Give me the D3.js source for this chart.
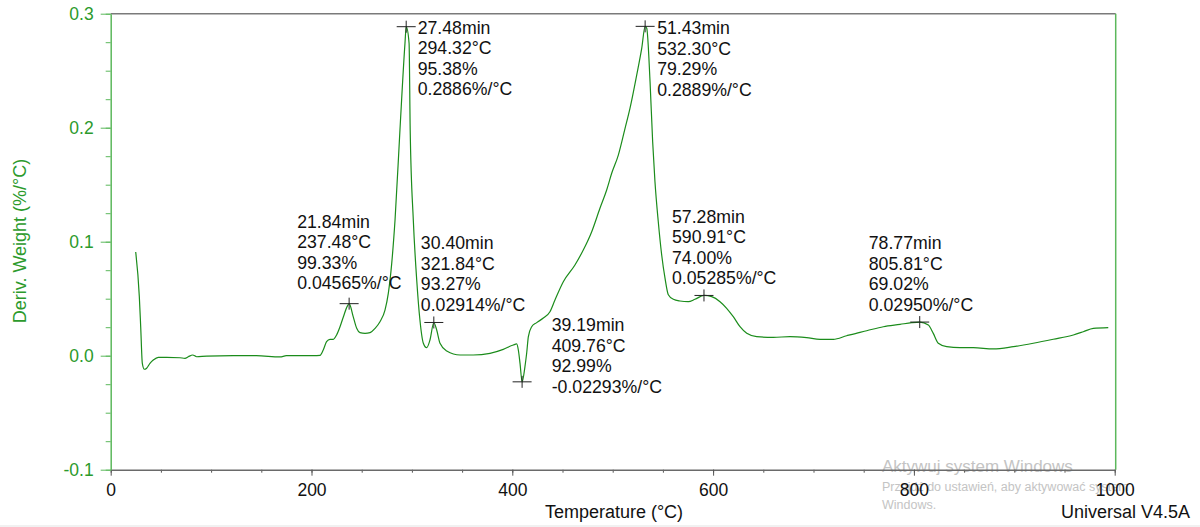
<!DOCTYPE html>
<html>
<head>
<meta charset="utf-8">
<script src="https://cdn.jsdelivr.net/npm/d3@7"></script>
<style>
  body { margin: 0; background: #fff; }
  svg { display: block; font-family: "Liberation Sans", Arial, sans-serif; }
</style>
</head>
<body>
<svg id="chart" width="1200" height="527"></svg>
<script>
// DTG curve
var temperature = [24.9, 28.5, 29.9, 31.5, 33.5, 35.8, 39.1, 42.4, 47.4, 55.8, 69, 74, 77.3, 81.7, 85.6, 95.6,
  122, 145, 168.6, 175, 202, 208.5, 211.7, 215, 218.4, 221.7, 225, 228.4, 231.7, 235.7, 237.48,
  241.6, 245, 248.3, 253.3, 258.3, 263.3, 268.2, 273.2, 276.5, 279.9, 283.2, 288.1, 293.1, 294.32,
  297.2, 298.3, 301.4, 304.8, 308, 311.4, 314.7, 318, 321.84, 324.7, 328, 334.7, 348, 361, 377.8,
  391, 401, 404.4, 406, 407.7, 409.76, 412.6, 414.3, 416, 419.3, 424.3, 430.9, 437.5, 442.5, 450.8,
  462.4, 470.7, 479.1, 487.3, 494, 499, 505.6, 512.3, 517.2, 523.9, 528.9, 532.3, 533.9, 537.2,
  539.8, 542.1, 545.4, 548.8, 552.1, 555.4, 560.4, 567, 575.3, 582, 590.91, 598.6, 606.9, 613.5,
  620.1, 626.8, 633.5, 643.4, 660, 676.6, 693.2, 706.5, 719.7, 733, 746.3, 753, 769.5, 786.2,
  797.8, 805.81, 814.4, 819.3, 824.3, 832.7, 845.9, 859.2, 879.1, 899, 918.9, 938.8, 958.8,
  968.7, 978.7, 993.6];
var derivWeight = [0.091, 0.052, 0.025, -0.0067, -0.0119, -0.011, -0.0067, -0.0038, -0.0014, -0.0014, -0.0018, -0.0023, -0.0009, 0.0006, -0.0009, -0.0003,
  0.0, 0.0, -0.0011, 0.0, 0.0, 0.0003, 0.005, 0.0123, 0.0144, 0.0144, 0.0182, 0.0254, 0.034, 0.0435, 0.04565,
  0.034, 0.024, 0.0202, 0.0196, 0.0202, 0.024, 0.0298, 0.040, 0.0547, 0.081, 0.119, 0.198, 0.274, 0.2886,
  0.274, 0.198, 0.119, 0.0664, 0.0313, 0.0109, 0.007, 0.0138, 0.02914, 0.0225, 0.0109, 0.0041, 0.0006, 0.0006, 0.0021,
  0.0056, 0.0094, 0.0103, 0.005, -0.0067, -0.02293, -0.0096, 0.0021, 0.0167, 0.0254, 0.029, 0.033, 0.0386, 0.0489, 0.0649,
  0.0796, 0.0927, 0.1088, 0.1293, 0.1454, 0.16, 0.176, 0.1995, 0.217, 0.2462, 0.2696, 0.2889, 0.2872, 0.2404,
  0.1877, 0.1526, 0.1175, 0.0883, 0.068, 0.0535, 0.0495, 0.048, 0.0474, 0.0495, 0.05285, 0.0518, 0.0474, 0.0416,
  0.0342, 0.0254, 0.0196, 0.0167, 0.0161, 0.0167, 0.0158, 0.0144, 0.0144, 0.0175, 0.0205, 0.0219, 0.0254, 0.0275,
  0.029, 0.0295, 0.0269, 0.0196, 0.0109, 0.0079, 0.007, 0.007, 0.0059, 0.0079, 0.0109, 0.0144, 0.0182,
  0.021, 0.024, 0.0246];

// peak annotations
var peakTime = ["21.84min", "27.48min", "30.40min", "39.19min", "51.43min", "57.28min", "78.77min"];
var peakTemp = [237.48, 294.32, 321.84, 409.76, 532.30, 590.91, 805.81];
var peakWeight = ["99.33%", "95.38%", "93.27%", "92.99%", "79.29%", "74.00%", "69.02%"];
var peakDeriv = [0.04565, 0.2886, 0.02914, -0.02293, 0.2889, 0.05285, 0.02950];
var peakDerivText = ["0.04565%/°C", "0.2886%/°C", "0.02914%/°C", "-0.02293%/°C", "0.2889%/°C", "0.05285%/°C", "0.02950%/°C"];
// where each label block sits relative to its cross (px)
var labelShift = [[-52, -82], [11.5, 1], [-13, -79.5], [29.6, -57], [12, 1.5], [-32, -79], [-51, -79]];

var xTicks = [0, 200, 400, 600, 800, 1000];
var yTicks = [-0.1, 0.0, 0.1, 0.2, 0.3];

var lineGreen = "#1b8c1b", axisGreen = "#5cb85c", textGreen = "#2c9a2c";

var svg = d3.select("#chart");
svg.append("rect").attr("width", 1200).attr("height", 527).attr("fill", "#fff");

var x = d3.scaleLinear().domain([0, 1000]).range([110.7, 1114.7]);
var y = d3.scaleLinear().domain([-0.1, 0.3]).range([469.7, 13.7]);

// windows watermark (under everything)
var wm = svg.append("g").attr("fill", "#c4c4c4");
wm.append("text").attr("x", 882).attr("y", 472).attr("font-size", 17).text("Aktywuj system Windows");
wm.append("text").attr("x", 882).attr("y", 491).attr("font-size", 12.5).text("Przejdź do ustawień, aby aktywować system");
wm.append("text").attr("x", 882).attr("y", 509).attr("font-size", 12.5).text("Windows.");

// frame top + right
svg.append("line").attr("x1", x(0)).attr("x2", x(1000) + 1).attr("y1", y(0.3)).attr("y2", y(0.3))
  .attr("stroke", "#7a7a7a").attr("stroke-width", 1.5);
svg.append("line").attr("x1", x(1000) + 1).attr("x2", x(1000) + 1).attr("y1", y(0.3)).attr("y2", y(-0.1))
  .attr("stroke", axisGreen).attr("stroke-width", 1.5);

// x axis
var xMinor = svg.append("g").attr("transform", `translate(0,${y(-0.1)})`)
  .call(d3.axisBottom(x).tickValues(d3.range(0, 1001, 50)).tickSize(3).tickSizeOuter(0).tickFormat(""));
xMinor.selectAll("line").attr("stroke", "#555");
xMinor.select(".domain").remove();

var xAxis = svg.append("g").attr("transform", `translate(0,${y(-0.1)})`)
  .call(d3.axisBottom(x).tickValues(xTicks).tickSize(6).tickSizeOuter(0).tickPadding(8).tickFormat(d => d));
xAxis.select(".domain").attr("stroke", "#6a6a6a").attr("stroke-width", 1.5);
xAxis.selectAll("line").attr("stroke", "#555");
xAxis.selectAll("text").attr("font-size", 17.5).attr("fill", "#111").attr("font-family", null);

// y axis
var yMinor = svg.append("g").attr("transform", `translate(${x(0)},0)`)
  .call(d3.axisLeft(y).tickValues(d3.range(-0.1, 0.3001, 0.025)).tickSize(5).tickSizeOuter(0).tickFormat(""));
yMinor.selectAll("line").attr("stroke", axisGreen);
yMinor.select(".domain").remove();

var yAxis = svg.append("g").attr("transform", `translate(${x(0)},0)`)
  .call(d3.axisLeft(y).tickValues(yTicks).tickSize(10).tickSizeOuter(0).tickPadding(7).tickFormat(d => d.toFixed(1)));
yAxis.select(".domain").attr("stroke", axisGreen).attr("stroke-width", 1.5);
yAxis.selectAll("line").attr("stroke", axisGreen);
yAxis.selectAll("text").attr("font-size", 17.5).attr("fill", textGreen).attr("font-family", null);

// axis titles
svg.append("text").attr("transform", "translate(26,241) rotate(-90)").attr("text-anchor", "middle")
  .attr("font-size", 18).attr("fill", textGreen).text("Deriv. Weight (%/°C)");
svg.append("text").attr("x", 614).attr("y", 518).attr("text-anchor", "middle")
  .attr("font-size", 18).attr("fill", "#111").text("Temperature (°C)");
svg.append("text").attr("x", 1190).attr("y", 518).attr("text-anchor", "end")
  .attr("font-size", 18).attr("fill", "#111").text("Universal V4.5A");

// curve
var pts = temperature.map((t, i) => [t, derivWeight[i]]);
svg.append("path").datum(pts)
  .attr("fill", "none").attr("stroke", lineGreen).attr("stroke-width", 1.2)
  .attr("d", d3.line().x(d => x(d[0])).y(d => y(d[1])).curve(d3.curveMonotoneX));

// peak markers + labels
var peaks = svg.append("g").selectAll("g").data(peakTemp).enter().append("g")
  .attr("transform", (d, i) => `translate(${x(d)},${y(peakDeriv[i])})`);
peaks.append("path").attr("d", "M-9.5,0H9.5M0,-6V6").attr("stroke", "#222").attr("stroke-width", 1);
peaks.each(function(d, i) {
  var lines = [peakTime[i], d.toFixed(2) + "°C", peakWeight[i], peakDerivText[i]];
  d3.select(this).append("g").selectAll("text").data(lines).enter().append("text")
    .attr("x", labelShift[i][0])
    .attr("y", (s, k) => labelShift[i][1] + k * 20.5)
    .attr("dy", "0.35em")
    .attr("font-size", 17.7).attr("fill", "#111")
    .text(s => s);
});

// bottom window edge
svg.append("line").attr("x1", 0).attr("x2", 1200).attr("y1", 526).attr("y2", 526).attr("stroke", "#e3e3e3");
</script>
</body>
</html>
